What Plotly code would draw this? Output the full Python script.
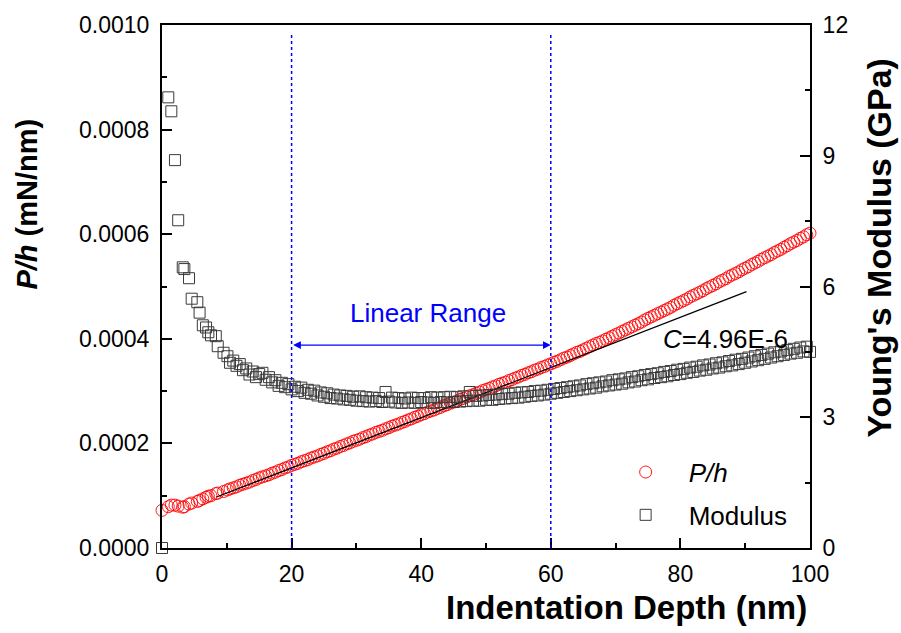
import plotly.graph_objects as go

# ---------------- data ----------------
depth = [0, 0.97, 1.44, 2.0, 2.5, 3.2, 3.45, 4.17, 4.58, 5.45, 5.8, 6.3, 6.8, 7.15, 7.56, 8.3, 8.6, 9.5, 10.1,
         10.5, 11.0, 11.5, 12.0, 12.5, 13.0, 13.5, 14.0, 14.5, 15.0,
         15.5, 16.0, 16.5, 17.0, 17.5, 18.0, 18.5, 19.0, 19.5, 20.0,
         20.5, 21.0, 21.5, 22.0, 22.5, 23.0, 23.5, 24.0, 24.5, 25.0,
         25.5, 26.0, 26.5, 27.0, 27.5, 28.0, 28.5, 29.0, 29.5, 30.0,
         30.5, 31.0, 31.5, 32.0, 32.5, 33.0, 33.5, 34.0, 34.5, 35.0,
         35.5, 36.0, 36.5, 37.0, 37.5, 38.0, 38.5, 39.0, 39.5, 40.0,
         40.5, 41.0, 41.5, 42.0, 42.5, 43.0, 43.5, 44.0, 44.5, 45.0,
         45.5, 46.0, 46.5, 47.0, 47.5, 48.0, 48.5, 49.0, 49.5, 50.0,
         50.5, 51.0, 51.5, 52.0, 52.5, 53.0, 53.5, 54.0, 54.5, 55.0,
         55.5, 56.0, 56.5, 57.0, 57.5, 58.0, 58.5, 59.0, 59.5, 60.0,
         60.5, 61.0, 61.5, 62.0, 62.5, 63.0, 63.5, 64.0, 64.5, 65.0,
         65.5, 66.0, 66.5, 67.0, 67.5, 68.0, 68.5, 69.0, 69.5, 70.0,
         70.5, 71.0, 71.5, 72.0, 72.5, 73.0, 73.5, 74.0, 74.5, 75.0,
         75.5, 76.0, 76.5, 77.0, 77.5, 78.0, 78.5, 79.0, 79.5, 80.0,
         80.5, 81.0, 81.5, 82.0, 82.5, 83.0, 83.5, 84.0, 84.5, 85.0,
         85.5, 86.0, 86.5, 87.0, 87.5, 88.0, 88.5, 89.0, 89.5, 90.0,
         90.5, 91.0, 91.5, 92.0, 92.5, 93.0, 93.5, 94.0, 94.5, 95.0,
         95.5, 96.0, 96.5, 97.0, 97.5, 98.0, 98.5, 99.0, 99.5, 100.0]

# P/h in units of 1e-4 mN/nm
ph_e4 = [0.72, 0.79, 0.82, 0.82, 0.80, 0.78, 0.79, 0.84, 0.86, 0.89, 0.91, 0.94, 0.97, 0.99, 1.00, 1.04, 1.05, 1.08, 1.11,
         1.13, 1.15, 1.17, 1.20, 1.22, 1.24, 1.26, 1.29, 1.31, 1.34,
         1.36, 1.38, 1.40, 1.43, 1.45, 1.48, 1.50, 1.53, 1.55, 1.58,
         1.60, 1.62, 1.65, 1.67, 1.69, 1.72, 1.74, 1.76, 1.79, 1.81,
         1.84, 1.86, 1.89, 1.91, 1.94, 1.96, 1.99, 2.01, 2.04, 2.06,
         2.08, 2.11, 2.13, 2.16, 2.18, 2.21, 2.23, 2.25, 2.28, 2.30,
         2.33, 2.35, 2.37, 2.40, 2.42, 2.45, 2.47, 2.50, 2.52, 2.55,
         2.57, 2.60, 2.62, 2.64, 2.67, 2.69, 2.72, 2.74, 2.77, 2.79,
         2.81, 2.84, 2.86, 2.89, 2.91, 2.93, 2.96, 2.98, 3.01, 3.03,
         3.05, 3.08, 3.10, 3.13, 3.15, 3.17, 3.20, 3.22, 3.25, 3.27,
         3.30, 3.32, 3.35, 3.37, 3.40, 3.42, 3.45, 3.47, 3.50, 3.52,
         3.55, 3.57, 3.60, 3.63, 3.65, 3.68, 3.71, 3.74, 3.76, 3.79,
         3.82, 3.85, 3.88, 3.91, 3.93, 3.96, 3.99, 4.02, 4.05, 4.08,
         4.11, 4.14, 4.17, 4.20, 4.23, 4.26, 4.29, 4.32, 4.36, 4.39,
         4.42, 4.45, 4.48, 4.51, 4.54, 4.57, 4.60, 4.64, 4.67, 4.70,
         4.73, 4.76, 4.80, 4.83, 4.86, 4.89, 4.92, 4.96, 4.99, 5.02,
         5.05, 5.09, 5.12, 5.15, 5.19, 5.22, 5.25, 5.28, 5.32, 5.35,
         5.38, 5.42, 5.45, 5.48, 5.52, 5.55, 5.58, 5.61, 5.65, 5.68,
         5.71, 5.75, 5.78, 5.82, 5.85, 5.88, 5.92, 5.95, 5.99, 6.02]

# Young's modulus (GPa)
modulus = [0.0, 10.34, 10.02, 8.90, 7.52, 6.44, 6.40, 6.19, 5.72, 5.64, 5.40, 5.11, 5.06, 4.95, 4.88, 4.86, 4.63, 4.48, 4.40,
           4.25, 4.30, 4.18, 4.22, 4.08, 4.12, 3.98, 4.05, 3.92, 3.99,
           4.02, 3.86, 3.92, 3.80, 3.85, 3.72, 3.79, 3.69, 3.76, 3.64,
           3.70, 3.60, 3.68, 3.56, 3.63, 3.54, 3.61, 3.50, 3.57, 3.47,
           3.55, 3.44, 3.52, 3.43, 3.50, 3.41, 3.49, 3.40, 3.47, 3.38,
           3.48, 3.37, 3.46, 3.36, 3.45, 3.37, 3.44, 3.35, 3.58, 3.36,
           3.45, 3.34, 3.44, 3.33, 3.43, 3.34, 3.45, 3.33, 3.44, 3.35,
           3.44, 3.34, 3.46, 3.33, 3.45, 3.35, 3.46, 3.34, 3.47, 3.35,
           3.46, 3.36, 3.48, 3.37, 3.58, 3.38, 3.49, 3.38, 3.50, 3.40,
           3.51, 3.40, 3.52, 3.42, 3.53, 3.43, 3.54, 3.44, 3.56, 3.45,
           3.57, 3.47, 3.58, 3.49, 3.60, 3.50, 3.61, 3.52, 3.63, 3.54,
           3.65, 3.56, 3.67, 3.58, 3.69, 3.60, 3.71, 3.62, 3.73, 3.64,
           3.76, 3.66, 3.78, 3.68, 3.80, 3.71, 3.82, 3.73, 3.85, 3.75,
           3.87, 3.77, 3.89, 3.80, 3.92, 3.82, 3.94, 3.85, 3.97, 3.87,
           3.99, 3.90, 4.01, 3.92, 4.04, 3.94, 4.06, 3.97, 4.09, 3.99,
           4.11, 4.02, 4.14, 4.04, 4.16, 4.07, 4.19, 4.09, 4.21, 4.12,
           4.24, 4.14, 4.26, 4.17, 4.29, 4.19, 4.32, 4.22, 4.34, 4.25,
           4.37, 4.28, 4.40, 4.31, 4.43, 4.34, 4.46, 4.37, 4.49, 4.40,
           4.51, 4.43, 4.54, 4.46, 4.57, 4.48, 4.60, 4.51, 4.62, 4.50]

ph = [v * 1e-4 for v in ph_e4]

# linear fit segment (end points)
fit_x = [8.4, 90.2]
fit_y = [0.0000975, 0.000490]
fit_label = "<i>C</i>=4.96E-6"

# linear range markers
range_x = [20, 60]
range_top = 0.000985
arrow_y = 0.000388
range_label = "Linear Range"

FONT = "Liberation Sans, Arial, sans-serif"
BLUE = "#0000ff"

fig = go.Figure()

fig.add_trace(go.Scatter(
    x=depth, y=modulus, yaxis="y2", mode="markers", name="Modulus",
    marker=dict(symbol="square-open", size=11, color="#3a3a3a", line=dict(width=1, color="#3a3a3a")),
    cliponaxis=False, legendrank=2, legendgroup="b"))

fig.add_trace(go.Scatter(
    x=depth, y=ph, mode="markers", name="<i>P/h</i>",
    marker=dict(symbol="circle-open", size=12, color="#ff0000", line=dict(width=0.9, color="#ff0000")),
    cliponaxis=False, legendrank=1, legendgroup="a"))

fig.add_trace(go.Scatter(
    x=fit_x, y=fit_y, mode="lines", line=dict(color="black", width=1.3),
    showlegend=False))

shapes = []
for xv in range_x:
    shapes.append(dict(type="line", xref="x", yref="y", x0=xv, x1=xv, y0=0, y1=range_top,
                       line=dict(color=BLUE, width=1.5, dash="dot")))

annotations = [
    dict(x=range_x[1], y=arrow_y, ax=range_x[0], ay=arrow_y, xref="x", yref="y", axref="x", ayref="y",
         text="", showarrow=True, arrowhead=2, startarrowhead=2, arrowside="end+start",
         arrowsize=1.2, startarrowsize=1.2, arrowwidth=1.3, arrowcolor=BLUE),
    dict(x=(range_x[0] + range_x[1]) / 2 + 1, y=0.000449, xref="x", yref="y", text=range_label,
         showarrow=False, font=dict(family=FONT, size=26, color=BLUE)),
    dict(x=86.9, y=0.000399, xref="x", yref="y", text=fit_label, showarrow=False,
         font=dict(family=FONT, size=26, color="black")),
    dict(x=0.9985, y=-0.114, xref="paper", yref="paper", text="<b>Indentation Depth (nm)</b>",
         showarrow=False, xanchor="right", yanchor="middle", font=dict(family=FONT, size=33, color="black")),
    dict(x=-0.208, y=0.657, xref="paper", yref="paper", text="<b><i>P/h</i> (mN/nm)</b>", textangle=-90,
         showarrow=False, xanchor="center", yanchor="middle", font=dict(family=FONT, size=29, color="black")),
    dict(x=1.107, y=0.575, xref="paper", yref="paper", text="<b>Young's Modulus (GPa)</b>", textangle=-90,
         showarrow=False, xanchor="center", yanchor="middle", font=dict(family=FONT, size=34, color="black")),
]

axis_common = dict(showgrid=False, zeroline=False, showline=True, linecolor="black", linewidth=2,
                   ticks="inside", ticklen=10, tickwidth=2, tickcolor="black",
                   tickfont=dict(family=FONT, size=23, color="black"))

fig.update_layout(
    width=901, height=633,
    margin=dict(l=162, r=91, t=22, b=85),
    paper_bgcolor="white", plot_bgcolor="white",
    font=dict(family=FONT, color="black"),
    xaxis=dict(range=[0, 100], dtick=20, tick0=0, mirror=True,
               minor=dict(ticks="inside", ticklen=5, dtick=10, tickwidth=2, tickcolor="black"),
               ticklabelstandoff=4, **axis_common),
    yaxis=dict(range=[0, 0.001], dtick=0.0002, tick0=0, tickformat=".4f",
               minor=dict(ticks="inside", ticklen=5, dtick=0.0001, tickwidth=2, tickcolor="black"),
               ticklabelstandoff=6, **axis_common),
    yaxis2=dict(range=[0, 12], dtick=3, tick0=0, overlaying="y", side="right",
                minor=dict(ticks="inside", ticklen=5, dtick=1.5, tickwidth=2, tickcolor="black"),
                ticklabelstandoff=6, **axis_common),
    legend=dict(x=0.68, y=0.19, xanchor="left", yanchor="top", bgcolor="rgba(0,0,0,0)",
                font=dict(family=FONT, size=26, color="black"), itemwidth=76,
                traceorder="grouped", tracegroupgap=6),
    shapes=shapes,
    annotations=annotations,
)

fig.write_html("out.html")
